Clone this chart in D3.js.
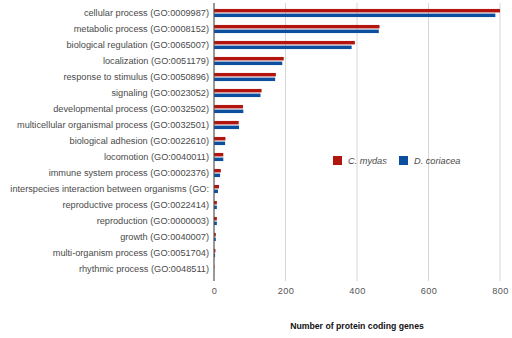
<!DOCTYPE html>
<html>
<head>
<meta charset="utf-8">
<script src="https://cdn.jsdelivr.net/npm/d3@7"></script>
<style>
  html, body { margin: 0; padding: 0; background: #fff; }
  svg { display: block; font-family: "Liberation Sans", Arial, sans-serif; }
</style>
</head>
<body>
<svg id="chart" width="512" height="338"></svg>
<script>
// GO biological process terms (level 2)
const categories = [
  "cellular process (GO:0009987)",
  "metabolic process (GO:0008152)",
  "biological regulation (GO:0065007)",
  "localization (GO:0051179)",
  "response to stimulus (GO:0050896)",
  "signaling (GO:0023052)",
  "developmental process (GO:0032502)",
  "multicellular organismal process (GO:0032501)",
  "biological adhesion (GO:0022610)",
  "locomotion (GO:0040011)",
  "immune system process (GO:0002376)",
  "interspecies interaction between organisms (GO:",
  "reproductive process (GO:0022414)",
  "reproduction (GO:0000003)",
  "growth (GO:0040007)",
  "multi-organism process (GO:0051704)",
  "rhythmic process (GO:0048511)"
];
const seriesNames = ["C. mydas", "D. coriacea"];
const cMydas    = [800, 463, 394, 195, 173, 133, 81, 69, 32, 26, 19, 14, 8, 8, 5, 4, 1];
const dCoriacea = [787, 461, 385, 191, 171, 130, 82, 70, 31, 26, 17, 11, 8, 8, 5, 3, 0];
const xTicks = [0, 200, 400, 600, 800];
const xTitle = "Number of protein coding genes";

const colors = ["#b1150d", "#0c4f9e"];
const series = [cMydas, dCoriacea];

const svg = d3.select("#chart");
const plot = { left: 214, right: 500, top: 5, bottom: 277 };

const x = d3.scaleLinear().domain([0, 800]).range([plot.left, plot.right]);
const y = d3.scaleBand().domain(categories).range([plot.top, plot.bottom]).paddingInner(0).paddingOuter(0);
const inner = d3.scaleBand().domain([0, 1]).range([0, y.bandwidth()]).paddingInner(0.25).paddingOuter(0.85);

// vertical gridlines
svg.append("g")
  .selectAll("line")
  .data(xTicks.filter(d => d > 0))
  .join("line")
  .attr("x1", d => x(d)).attr("x2", d => x(d))
  .attr("y1", 3).attr("y2", 281)
  .attr("stroke", "#d6d6d6").attr("stroke-width", 1);

// bars
const groups = svg.append("g")
  .selectAll("g")
  .data(categories)
  .join("g")
  .attr("transform", d => `translate(0,${y(d)})`);

groups.selectAll("rect")
  .data((d, i) => series.map((s, k) => ({ k, v: s[i] })))
  .join("rect")
  .attr("x", x(0))
  .attr("y", d => inner(d.k))
  .attr("width", d => Math.max(0, x(d.v) - x(0)))
  .attr("height", inner.bandwidth())
  .attr("fill", d => colors[d.k]);

// baseline
svg.append("line")
  .attr("x1", x(0)).attr("x2", x(0))
  .attr("y1", 3).attr("y2", 281)
  .attr("stroke", "#555").attr("stroke-width", 1.2);

// category labels
const yAxis = d3.axisLeft(y).tickSize(0).tickPadding(5);
const gy = svg.append("g").attr("transform", `translate(${x(0)},0)`).call(yAxis);
gy.select(".domain").remove();
gy.selectAll("text")
  .attr("font-size", 9.2)
  .attr("font-family", "'Liberation Sans', Arial, sans-serif")
  .attr("fill", "#4a4a4a");

// x tick labels
const xAxis = d3.axisBottom(x).tickValues(xTicks).tickSize(0).tickPadding(0).tickFormat(d3.format("d"));
const gx = svg.append("g").attr("transform", `translate(0,287)`).call(xAxis);
gx.select(".domain").remove();
gx.selectAll("text")
  .attr("font-size", 9.2)
  .attr("letter-spacing", 0.4)
  .attr("font-family", "'Liberation Sans', Arial, sans-serif")
  .attr("fill", "#555");

// x axis title
svg.append("text")
  .attr("x", (plot.left + plot.right) / 2)
  .attr("y", 329)
  .attr("text-anchor", "middle")
  .attr("font-size", 8.7)
  .attr("font-weight", "bold")
  .attr("fill", "#111")
  .text(xTitle);

// legend
const legendPos = [333, 399];
const legend = svg.append("g")
  .selectAll("g")
  .data(seriesNames)
  .join("g")
  .attr("transform", (d, i) => `translate(${legendPos[i]},156)`);
legend.append("rect")
  .attr("width", 9).attr("height", 9)
  .attr("fill", (d, i) => colors[i]);
legend.append("text")
  .attr("x", 15).attr("y", 8)
  .attr("font-size", 9.2)
  .attr("font-style", "italic")
  .attr("fill", "#4a4a4a")
  .text(d => d);
</script>
</body>
</html>
